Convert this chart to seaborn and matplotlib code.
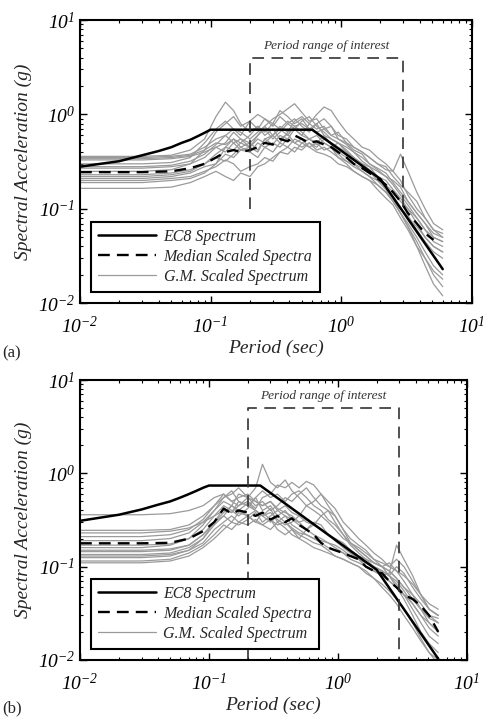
import numpy as np
import pandas as pd
import seaborn as sns
import matplotlib.pyplot as plt
from matplotlib.lines import Line2D

#############################################################################
# data
#############################################################################
periods = [0.01, 0.02, 0.03, 0.05, 0.07, 0.09, 0.11, 0.13, 0.15, 0.17, 0.20, 0.23,
           0.26, 0.30, 0.34, 0.39, 0.44, 0.50, 0.57, 0.65, 0.74, 0.84, 0.95, 1.1,
           1.25, 1.45, 1.65, 1.9, 2.2, 2.5, 2.85, 3.25, 3.8, 4.4, 5.1, 6.0]

# panel (a): ground motion scaled spectra
gm_a = [
    [0.36,0.36,0.36,0.37,0.42,0.55,0.95,1.35,1.1,0.8,0.65,0.75,0.6,0.7,0.55,0.62,0.5,0.55,0.45,0.5,0.42,0.45,0.35,0.32,0.28,0.25,0.22,0.2,0.17,0.13,0.1,0.085,0.06,0.045,0.035,0.03],
    [0.35,0.35,0.35,0.36,0.38,0.45,0.55,0.6,0.5,0.55,0.45,0.6,0.75,0.9,1.0,1.15,1.3,1.05,0.85,0.9,0.7,0.75,0.55,0.5,0.42,0.38,0.3,0.26,0.22,0.2,0.17,0.12,0.09,0.07,0.05,0.045],
    [0.34,0.34,0.34,0.35,0.37,0.42,0.5,0.48,0.55,0.45,0.5,0.42,0.55,0.6,0.5,0.65,0.7,0.6,0.8,1.0,1.2,1.1,0.85,0.65,0.55,0.45,0.42,0.35,0.3,0.25,0.2,0.14,0.1,0.08,0.06,0.05],
    [0.30,0.30,0.30,0.31,0.35,0.5,0.7,0.85,0.7,0.6,0.85,0.7,0.9,0.8,1.1,0.95,0.8,0.9,0.7,0.8,0.6,0.55,0.5,0.45,0.4,0.32,0.28,0.22,0.18,0.15,0.12,0.1,0.07,0.05,0.04,0.035],
    [0.27,0.27,0.27,0.28,0.3,0.35,0.45,0.4,0.5,0.42,0.45,0.55,0.5,0.6,0.75,0.65,0.85,0.95,0.8,0.7,0.75,0.6,0.65,0.5,0.45,0.4,0.35,0.3,0.26,0.25,0.38,0.25,0.15,0.1,0.07,0.06],
    [0.23,0.23,0.23,0.24,0.26,0.3,0.38,0.45,0.42,0.5,0.45,0.4,0.55,0.48,0.6,0.55,0.7,0.6,0.55,0.5,0.6,0.48,0.4,0.35,0.3,0.27,0.25,0.22,0.2,0.16,0.13,0.1,0.08,0.06,0.05,0.045],
    [0.21,0.21,0.21,0.22,0.24,0.28,0.3,0.38,0.35,0.42,0.4,0.35,0.45,0.5,0.45,0.55,0.5,0.45,0.5,0.42,0.45,0.4,0.35,0.3,0.25,0.22,0.2,0.18,0.15,0.12,0.1,0.08,0.065,0.05,0.04,0.035],
    [0.20,0.20,0.20,0.21,0.22,0.25,0.28,0.33,0.3,0.25,0.28,0.3,0.35,0.32,0.4,0.45,0.4,0.5,0.55,0.48,0.5,0.45,0.5,0.42,0.35,0.3,0.26,0.22,0.17,0.13,0.09,0.07,0.05,0.035,0.025,0.02],
    [0.19,0.19,0.19,0.2,0.21,0.24,0.3,0.45,0.55,0.5,0.6,0.75,0.65,0.8,0.7,0.6,0.75,0.65,0.55,0.6,0.5,0.45,0.38,0.32,0.3,0.25,0.22,0.18,0.15,0.12,0.09,0.065,0.045,0.03,0.02,0.015],
    [0.165,0.165,0.165,0.17,0.19,0.22,0.25,0.22,0.2,0.24,0.22,0.28,0.3,0.35,0.4,0.38,0.45,0.42,0.5,0.45,0.55,0.5,0.45,0.4,0.35,0.28,0.25,0.2,0.16,0.12,0.09,0.065,0.04,0.025,0.016,0.012],
    [0.25,0.25,0.25,0.26,0.3,0.42,0.65,0.8,0.95,0.75,0.85,1.0,0.9,0.75,0.95,0.8,0.7,0.85,0.95,0.75,0.65,0.55,0.5,0.4,0.35,0.3,0.28,0.25,0.22,0.18,0.14,0.11,0.08,0.06,0.045,0.04],
    [0.33,0.33,0.33,0.34,0.36,0.4,0.45,0.5,0.65,0.55,0.5,0.6,0.7,0.55,0.65,0.8,0.9,0.75,0.65,0.8,0.9,0.75,0.6,0.55,0.45,0.4,0.35,0.3,0.28,0.22,0.18,0.15,0.12,0.08,0.06,0.055],
    [0.22,0.22,0.22,0.23,0.25,0.3,0.35,0.32,0.38,0.45,0.4,0.5,0.45,0.4,0.5,0.45,0.55,0.5,0.45,0.4,0.38,0.35,0.3,0.28,0.25,0.22,0.2,0.16,0.13,0.11,0.08,0.06,0.04,0.03,0.022,0.018],
    [0.28,0.28,0.28,0.29,0.32,0.38,0.48,0.6,0.7,0.65,0.55,0.65,0.75,0.6,0.7,0.85,0.75,0.8,0.7,0.65,0.7,0.6,0.55,0.48,0.4,0.35,0.3,0.27,0.24,0.19,0.15,0.12,0.09,0.07,0.055,0.05],
]
median_a = [0.245,0.245,0.245,0.25,0.27,0.3,0.35,0.4,0.42,0.4,0.42,0.45,0.5,0.48,0.55,0.52,0.6,0.55,0.5,0.52,0.48,0.45,0.4,0.35,0.3,0.27,0.24,0.21,0.18,0.15,0.12,0.09,0.07,0.055,0.047]
ec8_a_T = [0.01, 0.02, 0.03, 0.04, 0.05, 0.06, 0.07, 0.08, 0.09, 0.1, 0.6, 2.0, 6.0]
ec8_a_Sa = [0.28, 0.32, 0.37, 0.41, 0.45, 0.5, 0.54, 0.59, 0.64, 0.69, 0.69, 0.207, 0.023]

# panel (b)
gm_b = [
    [0.36,0.36,0.36,0.37,0.4,0.45,0.55,0.6,0.5,0.55,0.6,0.5,0.45,0.5,0.4,0.45,0.38,0.35,0.3,0.28,0.25,0.22,0.2,0.18,0.15,0.13,0.12,0.1,0.09,0.08,0.07,0.055,0.04,0.03,0.022,0.018],
    [0.245,0.245,0.245,0.25,0.28,0.35,0.45,0.6,0.5,0.45,0.55,0.7,1.25,0.8,0.7,0.85,0.65,0.55,0.45,0.4,0.35,0.3,0.25,0.2,0.18,0.15,0.13,0.11,0.1,0.09,0.075,0.06,0.045,0.035,0.028,0.025],
    [0.23,0.23,0.23,0.24,0.26,0.3,0.35,0.4,0.38,0.45,0.5,0.42,0.55,0.6,0.75,0.7,0.8,0.7,0.82,0.75,0.6,0.5,0.42,0.3,0.25,0.2,0.17,0.14,0.12,0.1,0.09,0.07,0.05,0.035,0.025,0.02],
    [0.21,0.21,0.21,0.22,0.25,0.32,0.45,0.55,0.65,0.5,0.45,0.55,0.4,0.45,0.35,0.4,0.32,0.3,0.25,0.22,0.2,0.18,0.17,0.15,0.13,0.12,0.1,0.09,0.08,0.07,0.06,0.05,0.04,0.03,0.025,0.02],
    [0.16,0.16,0.16,0.17,0.2,0.28,0.4,0.5,0.45,0.6,0.55,0.45,0.5,0.4,0.45,0.55,0.5,0.6,0.7,0.55,0.45,0.4,0.35,0.25,0.2,0.17,0.15,0.12,0.11,0.1,0.12,0.1,0.07,0.05,0.035,0.03],
    [0.145,0.145,0.145,0.15,0.17,0.22,0.3,0.35,0.45,0.4,0.48,0.4,0.35,0.42,0.3,0.35,0.28,0.25,0.22,0.2,0.18,0.16,0.15,0.14,0.12,0.11,0.1,0.09,0.08,0.085,0.17,0.12,0.08,0.05,0.035,0.03],
    [0.135,0.135,0.135,0.14,0.16,0.2,0.28,0.35,0.3,0.38,0.35,0.3,0.38,0.32,0.28,0.3,0.25,0.22,0.2,0.18,0.17,0.15,0.13,0.12,0.11,0.1,0.085,0.075,0.065,0.055,0.045,0.035,0.025,0.017,0.012,0.009],
    [0.125,0.125,0.125,0.13,0.15,0.2,0.3,0.42,0.38,0.5,0.45,0.4,0.35,0.38,0.32,0.28,0.3,0.35,0.45,0.5,0.6,0.45,0.35,0.25,0.18,0.15,0.13,0.11,0.1,0.09,0.075,0.06,0.05,0.04,0.03,0.025],
    [0.115,0.115,0.115,0.12,0.14,0.17,0.22,0.28,0.25,0.3,0.35,0.3,0.28,0.32,0.25,0.22,0.25,0.2,0.18,0.16,0.15,0.14,0.13,0.12,0.11,0.1,0.09,0.075,0.06,0.05,0.04,0.03,0.022,0.016,0.012,0.01],
    [0.11,0.11,0.11,0.115,0.13,0.16,0.2,0.25,0.3,0.28,0.32,0.38,0.3,0.35,0.4,0.35,0.32,0.28,0.25,0.3,0.28,0.22,0.2,0.17,0.14,0.12,0.11,0.1,0.09,0.08,0.1,0.085,0.06,0.045,0.035,0.03],
    [0.19,0.19,0.19,0.2,0.23,0.3,0.4,0.55,0.6,0.7,0.55,0.5,0.45,0.5,0.42,0.38,0.35,0.3,0.32,0.28,0.25,0.22,0.19,0.16,0.14,0.12,0.11,0.1,0.09,0.08,0.06,0.045,0.03,0.02,0.015,0.012],
    [0.13,0.13,0.13,0.135,0.15,0.18,0.25,0.3,0.35,0.3,0.28,0.32,0.28,0.25,0.3,0.26,0.22,0.2,0.25,0.28,0.35,0.4,0.3,0.22,0.17,0.14,0.12,0.11,0.1,0.11,0.09,0.08,0.065,0.05,0.04,0.035],
    [0.17,0.17,0.17,0.175,0.2,0.25,0.35,0.45,0.4,0.35,0.42,0.55,0.65,0.55,0.6,0.5,0.6,0.65,0.55,0.45,0.4,0.32,0.28,0.22,0.18,0.16,0.14,0.12,0.1,0.08,0.065,0.05,0.035,0.025,0.018,0.015],
    [0.15,0.15,0.15,0.155,0.17,0.22,0.3,0.38,0.45,0.4,0.35,0.4,0.35,0.3,0.35,0.3,0.26,0.23,0.22,0.2,0.19,0.18,0.16,0.14,0.13,0.12,0.1,0.09,0.085,0.07,0.06,0.05,0.045,0.035,0.03,0.028],
]
median_b = [0.178,0.178,0.178,0.18,0.2,0.24,0.3,0.42,0.37,0.4,0.38,0.35,0.38,0.32,0.35,0.3,0.33,0.28,0.25,0.22,0.18,0.16,0.15,0.14,0.13,0.12,0.1,0.09,0.085,0.07,0.06,0.05,0.045,0.038,0.03,0.02]
ec8_b_T = [0.01, 0.02, 0.03, 0.04, 0.05, 0.06, 0.07, 0.08, 0.09, 0.1, 0.25, 2.0, 6.0]
ec8_b_Sa = [0.31, 0.36, 0.41, 0.46, 0.5, 0.55, 0.6, 0.65, 0.7, 0.74, 0.74, 0.0925, 0.0103]

# period range of interest (box corners)
range_T = [0.2, 0.2, 3.0, 3.0]
range_a_Sa = [0.1, 4.0, 4.0, 0.1]
range_b_Sa = [0.01, 5.0, 5.0, 0.01]

legend_labels = ['EC8 Spectrum', 'Median Scaled Spectra', 'G.M. Scaled Spectrum']

#############################################################################
# style
#############################################################################
sns.set_style('ticks')
plt.rcParams['font.family'] = ['Liberation Serif', 'DejaVu Serif']
plt.rcParams['font.style'] = 'italic'
plt.rcParams['mathtext.fontset'] = 'custom'
plt.rcParams['mathtext.rm'] = 'Liberation Serif:italic'
plt.rcParams['mathtext.it'] = 'Liberation Serif:italic'
plt.rcParams['axes.edgecolor'] = 'black'
plt.rcParams['axes.linewidth'] = 1.5

gray = '#9a9a9a'

fig = plt.figure(figsize=(4.83, 7.17), dpi=100)
ax_a = fig.add_axes([0.1656, 0.577, 0.811, 0.395])
ax_b = fig.add_axes([0.1656, 0.0795, 0.801, 0.3905])


def draw_panel(ax, gm, median, ec8_T, ec8_Sa, range_Sa, text_y):
    long = pd.DataFrame([(i, t, v) for i, rec in enumerate(gm) for t, v in zip(periods, rec)],
                        columns=['record', 'T', 'Sa'])
    sns.lineplot(data=long, x='T', y='Sa', units='record', estimator=None,
                 color=gray, lw=0.9, ax=ax, legend=False)
    sns.lineplot(x=ec8_T, y=ec8_Sa, color='black', lw=1.8, ax=ax, sort=False)
    sns.lineplot(x=periods[:len(median)], y=median, color='black', lw=1.7,
                 dashes=False, ax=ax).lines[-1].set_dashes((5, 3))
    ln, = ax.plot(range_T, range_Sa, color='#333333', lw=1.2)
    ln.set_dashes((7, 4.5))
    ax.text(0.77, text_y, 'Period range of interest', ha='center', va='bottom',
            fontsize=9.5, color='#333333')

    ax.set_xscale('log')
    ax.set_yscale('log')
    ax.set_xlim(1e-2, 1e1)
    ax.set_ylim(1e-2, 1e1)
    ax.set_xticks([1e-2, 1e-1, 1e0, 1e1])
    ax.set_yticks([1e-2, 1e-1, 1e0, 1e1])
    ax.tick_params(which='both', direction='in', top=True, right=True,
                   labelsize=14, colors='black')
    ax.tick_params(which='major', length=5, width=1)
    ax.tick_params(which='minor', length=2.5, width=0.8)
    ax.tick_params(axis='x', pad=9)
    ax.set_xlabel('Period (sec)', fontsize=14, labelpad=2)
    ax.set_ylabel('Spectral Acceleration (g)', fontsize=14, labelpad=4)

    handles = [Line2D([], [], color='black', lw=1.8),
               Line2D([], [], color='black', lw=1.7, dashes=(5, 3)),
               Line2D([], [], color=gray, lw=0.9)]
    leg = ax.legend(handles, legend_labels, loc='lower left', bbox_to_anchor=(0.028, 0.039),
                    borderaxespad=0, fontsize=11.5, handlelength=3.6, labelspacing=0.25,
                    fancybox=False, framealpha=1, edgecolor='black', borderpad=0.45,
                    handletextpad=0.5)
    leg.get_frame().set_linewidth(1.5)


draw_panel(ax_a, gm_a, median_a, ec8_a_T, ec8_a_Sa, range_a_Sa, 4.6)
draw_panel(ax_b, gm_b, median_b, ec8_b_T, ec8_b_Sa, range_b_Sa, 5.8)

fig.text(0.005, 1 - 353 / 717, '(a)', fontsize=12, style='normal', va='center')
fig.text(0.005, 1 - 708 / 717, '(b)', fontsize=12, style='normal', va='center')

plt.savefig('out.png', dpi=100)
